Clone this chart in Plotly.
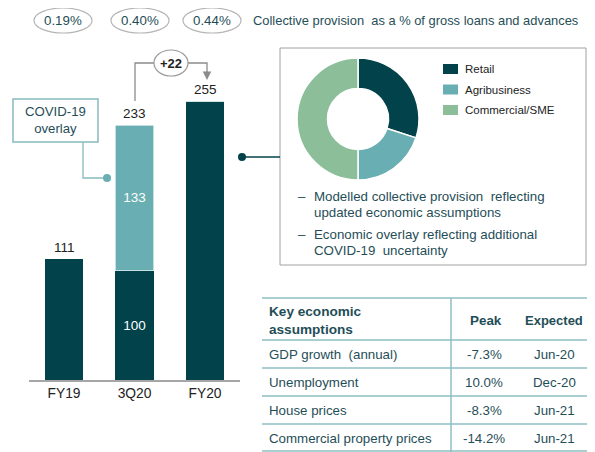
import plotly.graph_objects as go

W, H = 595, 452
OFF = 8  # page body margin offset
def fx(x): return (x - OFF) / W
def fy(y): return 1 - (y - OFF) / H

# ---------------- data ----------------
periods = ["FY19", "3Q20", "FY20"]
modelled = [111, 100, 255]
overlay = [0, 133, 0]
totals = [111, 233, 255]
change_label = "+22"
ratio_labels = ["0.19%", "0.40%", "0.44%"]
ratio_caption = "Collective provision  as a % of gross loans and advances"

segments = ["Retail", "Agribusiness", "Commercial/SME"]
segment_share = [30, 20, 50]

bullets = [["Modelled collective provision  reflecting", "updated economic assumptions"],
           ["Economic overlay reflecting additional", "COVID-19  uncertainty"]]

tbl_header = ["Key economic<br>assumptions", "Peak", "Expected"]
tbl_items = ["GDP growth  (annual)", "Unemployment", "House prices", "Commercial property prices"]
tbl_peak = ["-7.3%", "10.0%", "-8.3%", "-14.2%"]
tbl_expected = ["Jun-20", "Dec-20", "Jun-21", "Jun-21"]

DARK = "#02434B"
MID = "#69AEB2"
LIGHT = "#8CBF99"
TXT = "#1F4E57"
LINE_T = "#8DBFC3"
FONT = "Liberation Sans, Arial, sans-serif"
FS = 13.3

fig = go.Figure()

fig.add_trace(go.Bar(
    x=periods, y=modelled, marker=dict(color=DARK, line=dict(width=0)),
    text=["", str(modelled[1]), ""], textposition="inside", insidetextanchor="middle",
    textfont=dict(color="white", size=13.5, family=FONT), width=0.553, showlegend=False,
    hoverinfo="skip"))
fig.add_trace(go.Bar(
    x=periods, y=overlay, marker=dict(color=MID, line=dict(color="white", width=0.6)),
    text=["", str(overlay[1]), ""], textposition="inside", insidetextanchor="middle",
    textfont=dict(color="white", size=13.5, family=FONT), width=0.553, showlegend=False,
    hoverinfo="skip"))

fig.add_trace(go.Pie(
    labels=segments, values=segment_share, hole=0.5, sort=False, direction="clockwise",
    rotation=0, textinfo="none", showlegend=False,
    marker=dict(colors=[DARK, MID, LIGHT], line=dict(color="white", width=1.5)),
    domain=dict(x=[fx(297), fx(419)], y=[fy(180), fy(58)])))

y_top = (380 - 40) / 1.094
fig.update_layout(
    width=W, height=H, margin=dict(l=0, r=0, t=0, b=0),
    paper_bgcolor="white", plot_bgcolor="white", barmode="stack",
    font=dict(family=FONT, color="#222222"),
    xaxis=dict(domain=[fx(28.75), fx(240.25)], range=[-0.5, 2.5], showgrid=False,
               showline=True, linecolor="#A6A6A6", linewidth=1.5, ticks="",
               tickfont=dict(size=13.8, color="#222222", family=FONT), fixedrange=True),
    yaxis=dict(domain=[fy(380), fy(40)], range=[0, y_top], visible=False, fixedrange=True),
)

shapes = []
ann = []

def txt(x, y, s, size=FS, color=TXT, xanchor="center", align="center"):
    ann.append(dict(x=fx(x), y=fy(y), xref="paper", yref="paper", text=s, showarrow=False,
                    xanchor=xanchor, yanchor="middle", align=align,
                    font=dict(size=size, color=color)))

# bar total labels
for i, p in enumerate(periods):
    ann.append(dict(x=p, y=totals[i], xref="x", yref="y", text=str(totals[i]), showarrow=False,
                    xanchor="center", yanchor="bottom", yshift=2, font=dict(size=13.5, color="#222222")))

# ratio ovals
oval_cx = [63, 140, 212]
for cx, lab in zip(oval_cx, ratio_labels):
    shapes.append(dict(type="circle", xref="paper", yref="paper", x0=fx(cx - 29), x1=fx(cx + 29),
                       y0=fy(33), y1=fy(8), line=dict(color="#B5B5B5", width=1.2), fillcolor="white"))
    txt(cx, 20.5, lab, size=13.3)
txt(251, 20.5, ratio_caption, size=12.9, xanchor="left")

# +22 connector
GR = "#8C8C8C"
shapes.append(dict(type="path", xref="paper", yref="paper",
                   path=f"M {fx(135)} {fy(101)} L {fx(135)} {fy(63)} L {fx(154)} {fy(63)}",
                   line=dict(color=GR, width=1.3)))
shapes.append(dict(type="path", xref="paper", yref="paper",
                   path=f"M {fx(188)} {fy(63)} L {fx(207)} {fy(63)} L {fx(207)} {fy(72)}",
                   line=dict(color=GR, width=1.3)))
ann.append(dict(x=fx(207), y=fy(80), xref="paper", yref="paper", ax=0, ay=-10,
                text="", showarrow=True, arrowhead=2,
                arrowsize=1.3, arrowwidth=1.3, arrowcolor=GR))
shapes.append(dict(type="circle", xref="paper", yref="paper", x0=fx(154), x1=fx(188),
                   y0=fy(76), y1=fy(50), line=dict(color="#9A9A9A", width=1.2), fillcolor="white"))
txt(171, 63, "<b>" + change_label + "</b>", size=13, color="#222222")

# COVID-19 overlay box
shapes.append(dict(type="rect", xref="paper", yref="paper", x0=fx(13), x1=fx(98), y0=fy(142), y1=fy(99),
                   line=dict(color="#86BBBF", width=1.5), fillcolor="white"))
txt(55.5, 120.5, "COVID-19<br>overlay", size=13.2)
shapes.append(dict(type="path", xref="paper", yref="paper",
                   path=f"M {fx(83)} {fy(142)} L {fx(83)} {fy(178)} L {fx(107)} {fy(178)}",
                   line=dict(color="#86BBBF", width=1.3)))
shapes.append(dict(type="circle", xref="paper", yref="paper", x0=fx(103), x1=fx(111), y0=fy(182), y1=fy(174),
                   line=dict(color=MID, width=0), fillcolor=MID))

# donut panel
shapes.append(dict(type="rect", xref="paper", yref="paper", x0=fx(280), x1=fx(586), y0=fy(265), y1=fy(48),
                   line=dict(color="#A0A0A0", width=1)))
shapes.append(dict(type="line", xref="paper", yref="paper", x0=fx(242), x1=fx(280), y0=fy(157), y1=fy(157),
                   line=dict(color=DARK, width=1.3)))
shapes.append(dict(type="circle", xref="paper", yref="paper", x0=fx(238), x1=fx(246), y0=fy(161), y1=fy(153),
                   line=dict(color=DARK, width=0), fillcolor=DARK))

# manual legend
for i, (seg, col) in enumerate(zip(segments, [DARK, MID, LIGHT])):
    yc = 69 + 20.5 * i
    shapes.append(dict(type="rect", xref="paper", yref="paper", x0=fx(443), x1=fx(458),
                       y0=fy(yc + 5), y1=fy(yc - 5), line=dict(width=0), fillcolor=col))
    txt(463, yc, seg, size=11.5, color="#222222", xanchor="left")

# bullets
by = [196, 234]
for b, y0 in zip(bullets, by):
    txt(296, y0, "–", xanchor="left")
    for j, line in enumerate(b):
        txt(312, y0 + 16 * j, line, xanchor="left")

# table
for yl in [298, 340, 368, 396, 424, 451]:
    shapes.append(dict(type="line", xref="paper", yref="paper", x0=fx(262), x1=fx(600), y0=fy(yl), y1=fy(yl),
                       line=dict(color=LINE_T, width=1.5)))
shapes.append(dict(type="line", xref="paper", yref="paper", x0=fx(451), x1=fx(451), y0=fy(298), y1=fy(452),
                   line=dict(color=LINE_T, width=1.5)))
txt(267, 320, "<b>" + tbl_header[0] + "</b>", size=13.6, xanchor="left", align="left")
txt(486, 320, "<b>" + tbl_header[1] + "</b>", size=13.4)
txt(554, 320, "<b>" + tbl_header[2] + "</b>", size=13.0)
row_y = [354, 382, 410, 438]
for item, pk, ex, yy in zip(tbl_items, tbl_peak, tbl_expected, row_y):
    txt(267, yy, item, xanchor="left")
    txt(484, yy, pk)
    txt(554, yy, ex)

fig.update_layout(shapes=shapes, annotations=ann)
fig.write_html("out.html")
